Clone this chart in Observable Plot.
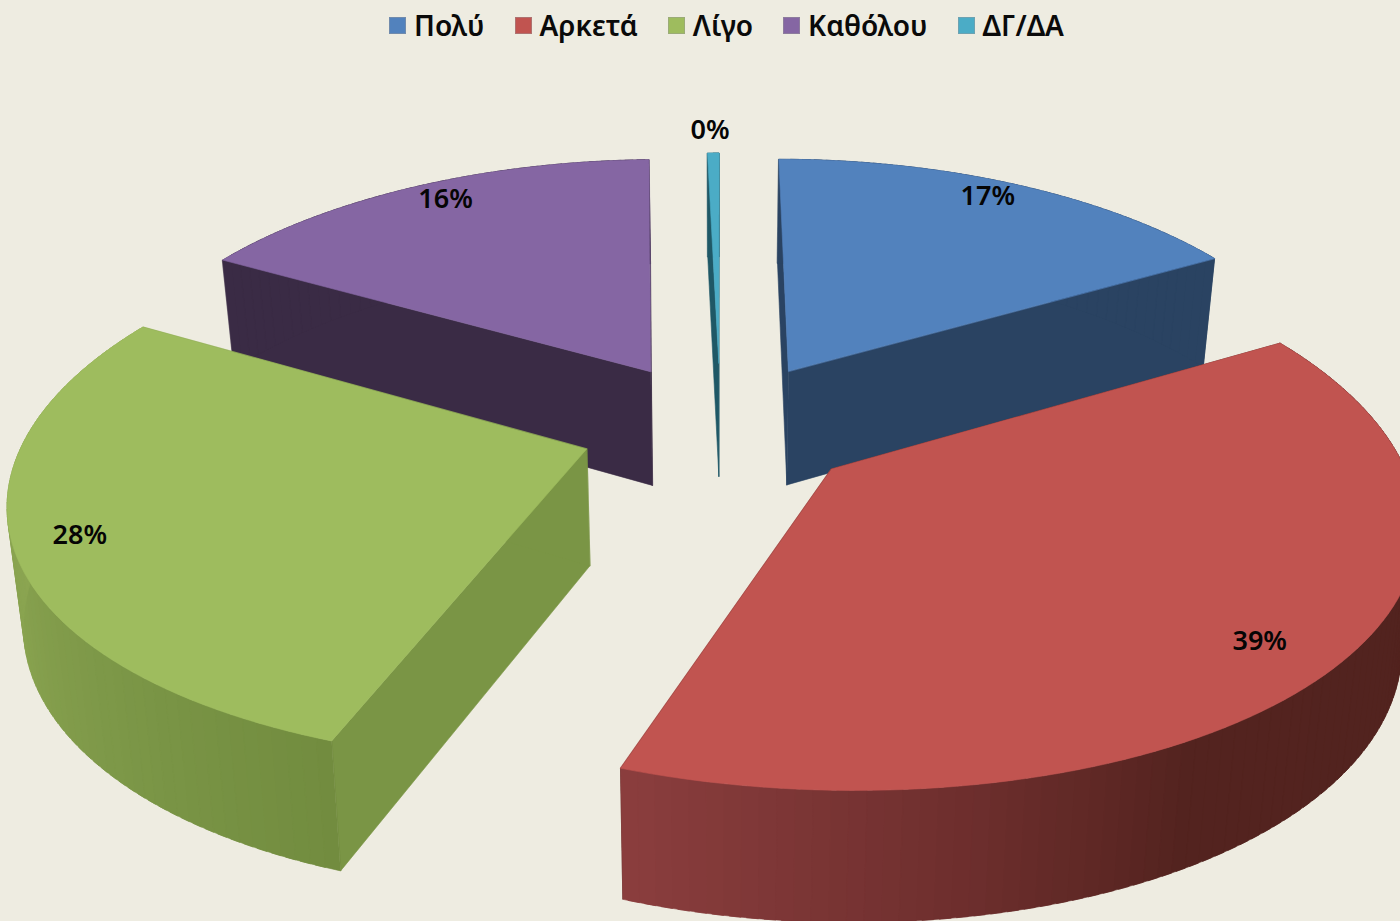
<!DOCTYPE html>
<html><head><meta charset="utf-8">
<script src="https://cdn.jsdelivr.net/npm/d3@7"></script>
<script src="https://cdn.jsdelivr.net/npm/@observablehq/plot@0.6"></script>
<style>
html,body{margin:0;padding:0;background:#eeece1;overflow:hidden}
#legend{height:50px;display:flex;justify-content:flex-start;align-items:center;padding-left:389px;box-sizing:border-box;font:600 28px "Noto Sans",sans-serif;color:#0a0a0a}
#legend span.k{display:inline-flex;align-items:center;margin-right:30px}
#legend i{width:17px;height:17px;display:inline-block;margin-right:8px;box-sizing:border-box;border:1px solid rgba(150,150,150,.45)}
svg{display:block;background:#eeece1}
</style></head><body>
<div id="legend"></div><div id="chart"></div>
<script>
// Data
const categories = ["Πολύ","Αρκετά","Λίγο","Καθόλου","ΔΓ/ΔΑ"];
const shares = [16.7,38.8,27.7,16.4,0.4];
// Styles
const topColors = ["#5282bd","#c15450","#9ebc5e","#8566a3","#4bacc6"];
const sideColors = ["#2a4362","#52231f","#7a9545","#3a2b45","#1f5866"];
const arcAngles = {1:[60,150,170,200],2:[200,220,250,300]};
const arcRamps = {1:["#50221f","#53231f","#6d2e2d","#8b3e3e"],2:["#728c3f","#7a9546","#88a24f","#91ab55"]};
const labelRadius = [0.915,0.87,0.89,0.91,1.125];
const labelTurn = [-1.6,1.5,0,1.5,-0.3];
const drawOrder = [3,0,4,2,1];
// Projection of the tilted pie
const cx=720, cy=425.5, A=558, B=259, kx=0.17, k=0.15, depth=116, shrink=0.977, explode=0.252;
const project=(u,v,z)=>{const s=z?shrink:1;return {x:cx+A*s*u/(1-kx*v),y:cy+B*s*v/(1-k*v)+z*depth/(1-k*v)};};
const rad=d=>d*Math.PI/180;
let acc=0;
const slices=shares.map((s,i)=>{const a0=acc,a1=acc+s*3.6;acc=a1;const m=(a0+a1)/2;
  return {i,a0,a1,m,u0:explode*Math.sin(rad(m)),v0:-explode*Math.cos(rad(m))};});
const rim=(sl,a,z)=>project(sl.u0+Math.sin(rad(a)),sl.v0-Math.cos(rad(a)),z);
const rows=[];let id=0;
const poly=(pts,fill)=>{id++;for(const p of pts)rows.push({x:p.x,y:p.y,z:id,fill});};
for(const i of drawOrder){
  const sl=slices[i],apT=project(sl.u0,sl.v0,0),apB=project(sl.u0,sl.v0,1);
  const n=Math.max(2,Math.ceil((sl.a1-sl.a0)/1.5));
  const angs=d3.range(n+1).map(j=>sl.a0+(sl.a1-sl.a0)*j/n);
  poly([apT,rim(sl,sl.a0,0),rim(sl,sl.a0,1),apB],sideColors[i]);
  poly([apT,rim(sl,sl.a1,0),rim(sl,sl.a1,1),apB],sideColors[i]);
  const ramp=arcRamps[i]?d3.scaleLinear().domain(arcAngles[i]).range(arcRamps[i]).clamp(true):()=>sideColors[i];
  for(let j=0;j<n;j++){
    const a=angs[j],b=Math.min(angs[j+1]+1,sl.a1);
    poly([rim(sl,a,0),rim(sl,b,0),rim(sl,b,1),rim(sl,a,1)],d3.color(ramp((angs[j]+angs[j+1])/2)).formatHex());
  }
  poly([apT,...angs.map(a=>rim(sl,a,0))],topColors[i]);
}
const labels=slices.map((sl,i)=>{const r=labelRadius[i],a=rad(sl.m+labelTurn[i]);
  const p=project(sl.u0+r*Math.sin(a),sl.v0-r*Math.cos(a),0);
  return {x:p.x,y:p.y,text:Math.round(shares[i])+"%"};});
const legendTop=50;
const plot=Plot.plot({
  width:1400,height:921-legendTop,margin:0,
  x:{domain:[0,1400],range:[0,1400],axis:null},
  y:{domain:[legendTop,921],range:[0,921-legendTop],axis:null},
  color:{type:"identity"},
  style:{background:"#eeece1"},
  marks:[
    Plot.line(rows,{x:"x",y:"y",z:"z",fill:"fill",stroke:"fill",strokeWidth:0.6,curve:"linear-closed"}),
    Plot.text(labels,{x:"x",y:"y",text:"text",fill:"#050505",fontSize:27,fontWeight:600,fontFamily:"Noto Sans"})
  ]
});
document.getElementById("chart").append(plot);
const lg=document.getElementById("legend");
categories.forEach((c,i)=>{const s=document.createElement("span");s.className="k";
  s.innerHTML=`<i style="background:${topColors[i]}"></i>${c}`;lg.append(s);});
</script></body></html>
